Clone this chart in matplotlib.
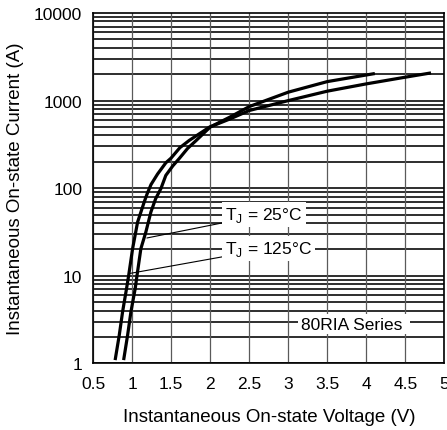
import matplotlib
matplotlib.use("Agg")
import matplotlib.pyplot as plt

# on-state characteristic
V_25C = [0.889, 0.94, 0.983, 1.038, 1.06, 1.11, 1.174, 1.239, 1.30, 1.367,
         1.43, 1.52, 1.60, 1.71, 1.82, 2.0, 2.25, 2.5, 3.0, 3.5, 4.11]
I_25C = [1.09, 2.1, 3.9, 7.2, 10, 20.4, 31.6, 53.6, 76, 99,
         140, 180, 217, 285, 351, 500, 647, 855, 1248, 1648, 2037]

V_125C = [0.78, 0.833, 0.876, 0.927, 0.953, 1.004, 1.068, 1.154, 1.19, 1.24,
          1.324, 1.43, 1.496, 1.61, 1.73, 1.99, 2.25, 2.5, 3.0, 3.5, 4.0,
          4.5, 4.83]
I_125C = [1.09, 2.1, 3.9, 7.2, 10, 20.4, 41, 70, 86, 110,
          145, 195, 220, 290, 351, 498, 616, 771, 1000, 1281, 1552,
          1850, 2070]

X_TICKS = [0.5, 1, 1.5, 2, 2.5, 3, 3.5, 4, 4.5, 5]
X_TICK_LABELS = ["0.5", "1", "1.5", "2", "2.5", "3", "3.5", "4", "4.5", "5"]
Y_TICKS = [1, 10, 100, 1000, 10000]
Y_TICK_LABELS = ["1", "10", "100", "1000", "10000"]

plt.rcParams["font.family"] = ["Liberation Sans", "DejaVu Sans"]
plt.rcParams["mathtext.fontset"] = "custom"
plt.rcParams["mathtext.rm"] = "Liberation Sans"

fig = plt.figure(figsize=(4.47, 4.31), dpi=100)
ax = fig.add_axes([0.2087, 0.1546, 0.7852, 0.8129])

ax.set_yscale("log")
ax.set_xlim(0.5, 5)
ax.set_ylim(1, 10000)

# grid: black horizontal lines at every step of each decade, grey verticals
for dec in [1, 10, 100, 1000]:
    for m in range(1, 10):
        ax.axhline(dec * m, color="black", linewidth=1.15, zorder=1)
for x in X_TICKS:
    ax.axvline(x, color="#5a5a5a", linewidth=0.9, zorder=1)

ax.plot(V_25C, I_25C, color="black", linewidth=2.3, zorder=3,
        solid_capstyle="butt", solid_joinstyle="round")
ax.plot(V_125C, I_125C, color="black", linewidth=2.3, zorder=3,
        solid_capstyle="butt", solid_joinstyle="round")

box = dict(boxstyle="square,pad=0.15", facecolor="white", edgecolor="none")
leader = dict(arrowstyle="-", color="black", linewidth=0.8,
              shrinkA=0, shrinkB=0)
ax.annotate(r"T$_\mathregular{J}$ = 25°C ", xy=(1.187, 27), xytext=(2.19, 50),
            fontsize=12.5, va="center", ha="left", bbox=box, zorder=5,
            arrowprops=leader)
ax.annotate(r"T$_\mathregular{J}$ = 125°C ", xy=(0.96, 10.6), xytext=(2.19, 20.5),
            fontsize=12.5, va="center", ha="left", bbox=box, zorder=5,
            arrowprops=leader)
ax.text(3.16, 2.8, "80RIA Series ", fontsize=12.5, ha="left", va="center",
        zorder=5, bbox=box)

ax.set_xticks(X_TICKS, X_TICK_LABELS, fontsize=12.5)
ax.set_yticks(Y_TICKS, Y_TICK_LABELS, fontsize=12.5)
ax.minorticks_off()
ax.tick_params(length=0)
ax.tick_params(axis="x", pad=9)
ax.tick_params(axis="y", pad=8)
for s in ax.spines.values():
    s.set_color("black")
    s.set_linewidth(1.2)
    s.set_zorder(4)

ax.set_xlabel("Instantaneous On-state Voltage (V)", fontsize=13.5, labelpad=12)
ax.set_ylabel("Instantaneous On-state Current (A)", fontsize=13.5, labelpad=7)

fig.savefig("out.png", dpi=100, facecolor="white")
